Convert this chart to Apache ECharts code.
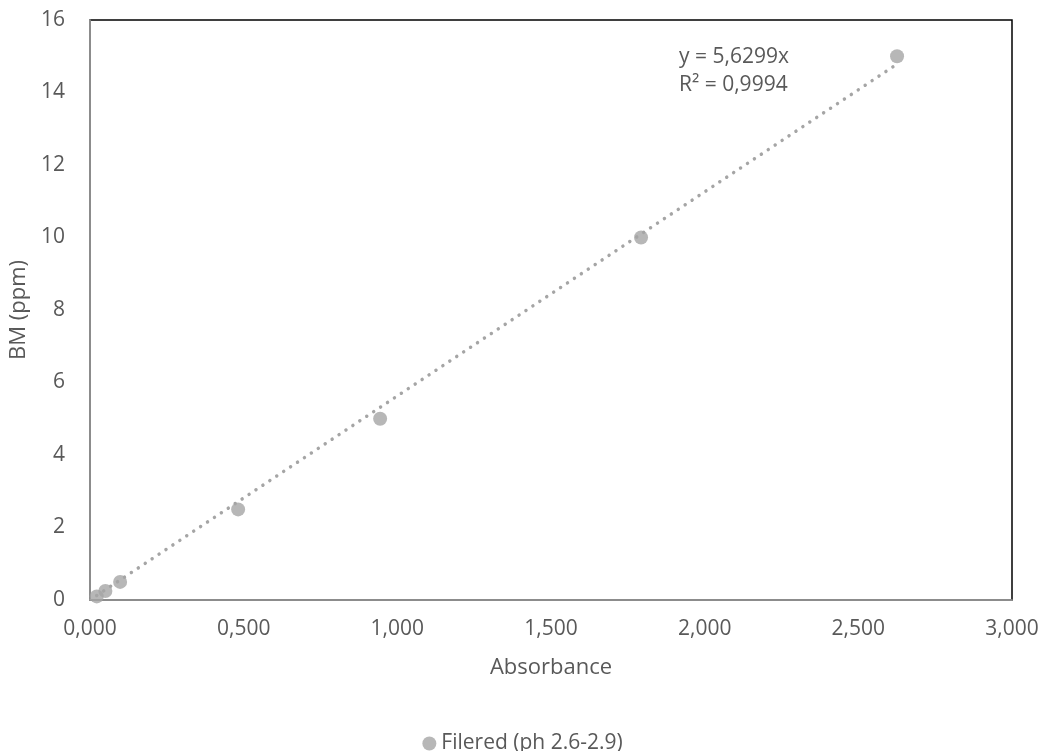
<!DOCTYPE html>
<html>
<head>
<meta charset="utf-8">
<script src="https://cdn.jsdelivr.net/npm/echarts@6/dist/echarts.min.js"></script>
<style>
html, body { margin: 0; padding: 0; background: #fff; }
#echart { width: 1045px; height: 751px; }
</style>
</head>
<body>
<div id="echart"></div>
<script>
// measured points (Absorbance, BM ppm)
var absorbance = [0.022, 0.050, 0.098, 0.482, 0.944, 1.793, 2.626];
var bmPpm = [0.1, 0.25, 0.5, 2.5, 5, 10, 15];
var slope = 5.6299;
var r2 = 0.9994;
var seriesName = 'Filered (ph 2.6-2.9)';

var points = absorbance.map(function (x, i) { return [x, bmPpm[i]]; });
var xMin = Math.min.apply(null, absorbance);
var xMax = Math.max.apply(null, absorbance);
var trend = [[xMin, slope * xMin], [xMax, slope * xMax]];

var fmt = function (v, d) { return v.toFixed(d).replace('.', ','); };
var font = 'Open Sans';
var txt = '#595959';

var myChart = echarts.init(document.getElementById('echart'));
myChart.setOption({
	textStyle: { fontFamily: font },
	animation: false,
	grid: {
		left: 90, right: 33, top: 20, bottom: 151,
		show: true, borderColor: '#000', borderWidth: 1.5
	},
	legend: {
		top: 728,
		data: [seriesName],
		icon: 'circle',
		itemWidth: 14, itemHeight: 14,
		itemGap: 7,
		textStyle: { color: txt, fontSize: 21, fontFamily: font }
	},
	xAxis: {
		type: 'value',
		min: 0, max: 3, interval: 0.5,
		name: 'Absorbance',
		nameLocation: 'middle',
		nameGap: 57,
		nameTextStyle: { color: txt, fontSize: 22 },
		axisLine: { lineStyle: { color: '#A6A6A6', width: 1.5 } },
		axisTick: { show: false },
		splitLine: { show: false },
		axisLabel: { color: txt, fontSize: 21, margin: 19, formatter: function (v) { return fmt(v, 3); } }
	},
	yAxis: {
		type: 'value',
		min: 0, max: 16, interval: 2,
		name: 'BM (ppm)',
		nameLocation: 'middle',
		nameGap: 55,
		nameTextStyle: { color: txt, fontSize: 22 },
		axisLine: { show: true, lineStyle: { color: '#A6A6A6', width: 1.5 } },
		axisTick: { show: false },
		splitLine: { show: false },
		axisLabel: { color: txt, fontSize: 21, margin: 25 }
	},
	series: [{
		name: seriesName,
		type: 'scatter',
		data: points,
		symbolSize: 14,
		itemStyle: { color: '#A5A5A5' },
		z: 3
	}, {
		name: 'trend',
		type: 'line',
		data: trend,
		symbol: 'none',
		lineStyle: { color: '#A5A5A5', width: 3.5, type: [0.01, 8.3], cap: 'round' },
		z: 2
	}],
	graphic: [{
		type: 'text',
		left: 679, top: 43,
		style: {
			text: 'y = ' + fmt(slope, 4) + 'x\nR² = ' + fmt(r2, 4),
			fill: txt, font: '21px "Open Sans"', lineHeight: 28
		}
	}]
});
</script>
</body>
</html>
